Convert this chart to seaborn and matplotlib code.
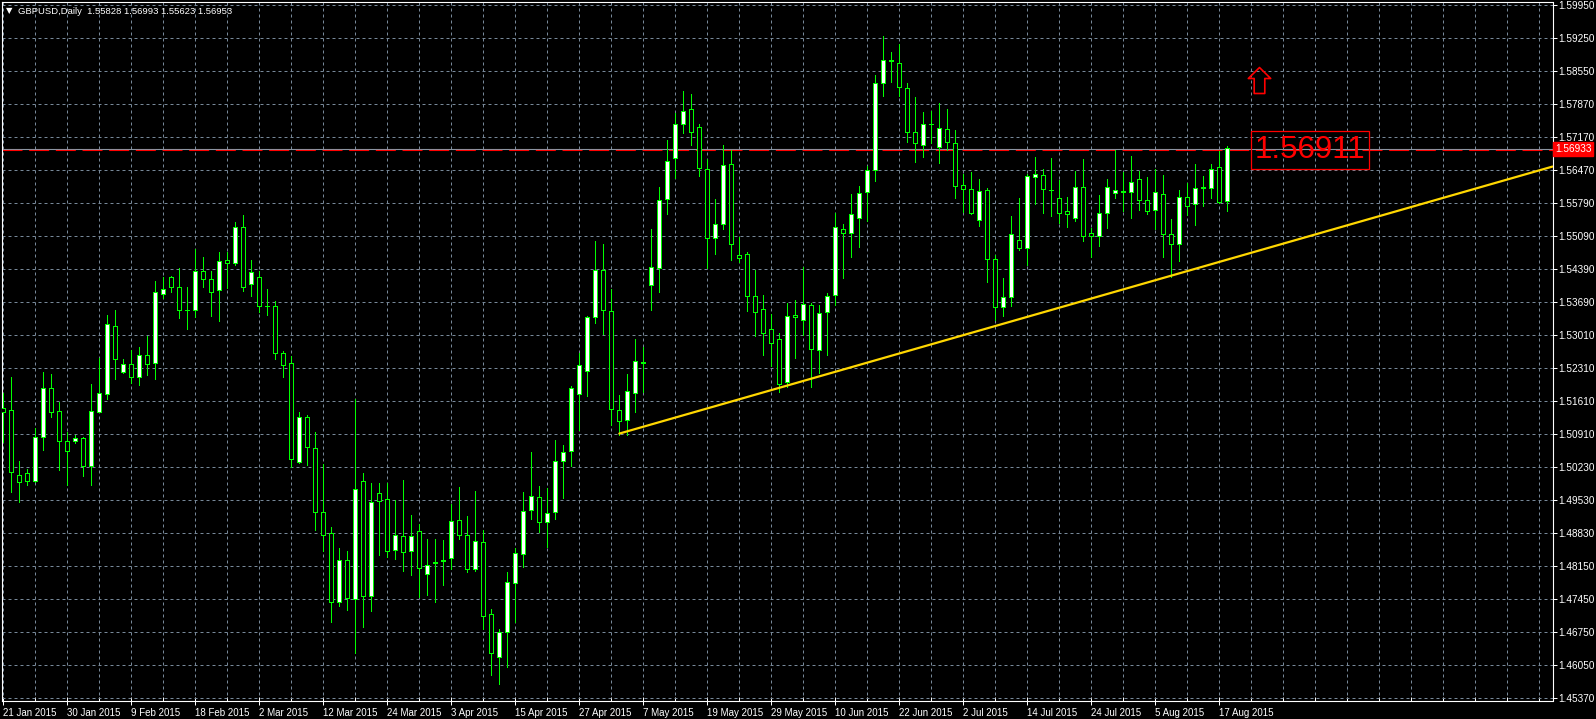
import numpy as np
import matplotlib
matplotlib.use("Agg")
import matplotlib.pyplot as plt
import matplotlib.transforms as mtransforms
from matplotlib.path import Path
import seaborn as sns

# daily GBPUSD candles, 21 Jan 2015 .. 18 Aug 2015 (broker has Sunday bars)
opens = [1.51478, 1.51436, 1.50062, 1.50104, 1.49936, 1.50862, 1.51893, 1.51409, 1.50778, 1.50778,
         1.50841, 1.50264, 1.51400, 1.51779, 1.53197, 1.52242, 1.52398, 1.52137, 1.52587, 1.52431,
         1.53883, 1.54228, 1.54018, 1.53540, 1.53534, 1.54354, 1.54186, 1.53954, 1.54586, 1.54522,
         1.55280, 1.54093, 1.54228, 1.53630, 1.53618, 1.52629, 1.52419, 1.50348, 1.51282, 1.50630,
         1.49284, 1.48842, 1.47390, 1.48274, 1.47453, 1.49936, 1.47529, 1.49684, 1.49557, 1.48497,
         1.48779, 1.48476, 1.48884, 1.47992, 1.48230, 1.48260, 1.48316, 1.49115, 1.48800, 1.48085,
         1.48653, 1.47138, 1.46233, 1.46772, 1.47790, 1.48400, 1.49326, 1.49599, 1.49073, 1.49284,
         1.50357, 1.50567, 1.51766, 1.52250, 1.53399, 1.54375, 1.53513, 1.51430, 1.51219, 1.51787,
         1.52445, 1.54072, 1.54430, 1.55882, 1.56731, 1.57447, 1.57762, 1.57384, 1.56500, 1.55061,
         1.55343, 1.56605, 1.54691, 1.54712, 1.53828, 1.53555, 1.53134, 1.52924, 1.52019, 1.53428,
         1.53330, 1.53639, 1.52698, 1.53492, 1.53849, 1.55238, 1.55154, 1.55469, 1.56016, 1.56479,
         1.58310, 1.58790, 1.58730, 1.58204, 1.57279, 1.57005, 1.57458, 1.56976, 1.57342, 1.57047,
         1.56164, 1.56079, 1.55427, 1.56065, 1.54607, 1.53597, 1.53807, 1.55013, 1.54838, 1.56344,
         1.56374, 1.56070, 1.55890, 1.55617, 1.55469, 1.56121, 1.55154, 1.55103, 1.55574, 1.55995,
         1.56034, 1.56016, 1.56290, 1.55848, 1.55638, 1.55974, 1.55133, 1.54922, 1.55911, 1.55764,
         1.56108, 1.56100, 1.56542, 1.55828]
highs = [1.51794, 1.52137, 1.50363, 1.50188, 1.51051, 1.52236, 1.52193, 1.51611, 1.50973, 1.50904,
         1.50874, 1.51983, 1.52524, 1.53435, 1.53540, 1.52509, 1.52698, 1.52762, 1.52999, 1.54150,
         1.54228, 1.54255, 1.54417, 1.54018, 1.54823, 1.54649, 1.54354, 1.54754, 1.54754, 1.55385,
         1.55539, 1.54586, 1.54360, 1.53982, 1.53729, 1.52684, 1.52572, 1.51394, 1.51331, 1.50967,
         1.50294, 1.48974, 1.48526, 1.48470, 1.51667, 1.50104, 1.49900, 1.49900, 1.49894, 1.49536,
         1.49963, 1.49227, 1.49031, 1.48722, 1.48722, 1.48701, 1.49458, 1.49816, 1.49206, 1.49732,
         1.48905, 1.47249, 1.46822, 1.48028, 1.48526, 1.49711, 1.50552, 1.49837, 1.49789, 1.50805,
         1.50700, 1.51941, 1.52642, 1.53420, 1.54992, 1.54929, 1.53975, 1.51745, 1.52193, 1.52930,
         1.52768, 1.55244, 1.56121, 1.57116, 1.57685, 1.58154, 1.58084, 1.57453, 1.56717, 1.55875,
         1.57011, 1.56906, 1.55082, 1.54754, 1.54382, 1.53856, 1.53449, 1.53050, 1.53681, 1.53750,
         1.54438, 1.53694, 1.53645, 1.53891, 1.55574, 1.55343, 1.55980, 1.56149, 1.56570, 1.58484,
         1.59305, 1.58968, 1.59136, 1.58310, 1.58015, 1.57699, 1.57727, 1.57895, 1.57769, 1.57327,
         1.56401, 1.56443, 1.56296, 1.56100, 1.54697, 1.54207, 1.55518, 1.55903, 1.56401, 1.56759,
         1.56506, 1.56731, 1.56275, 1.55917, 1.56458, 1.56717, 1.55265, 1.55959, 1.56290, 1.56906,
         1.56450, 1.56780, 1.56464, 1.56332, 1.56506, 1.56380, 1.55455, 1.56065, 1.56206, 1.56612,
         1.56365, 1.56612, 1.56885, 1.56993]
lows = [1.50763, 1.49717, 1.49507, 1.49858, 1.49928, 1.50594, 1.51295, 1.50174, 1.49858, 1.50748,
        1.50047, 1.49858, 1.51388, 1.51667, 1.52095, 1.52221, 1.52010, 1.51962, 1.52179, 1.52095,
        1.53792, 1.53925, 1.53378, 1.53147, 1.53399, 1.54030, 1.53420, 1.53315, 1.54009, 1.54487,
        1.53946, 1.53841, 1.53504, 1.53441, 1.52509, 1.52137, 1.50243, 1.50315, 1.50279, 1.48911,
        1.48476, 1.46982, 1.47319, 1.47228, 1.46330, 1.46877, 1.47207, 1.48392, 1.48350, 1.48308,
        1.48049, 1.47965, 1.47508, 1.47544, 1.47403, 1.47754, 1.48091, 1.48716, 1.48034, 1.48055,
        1.46835, 1.45867, 1.45671, 1.46035, 1.46969, 1.48127, 1.49149, 1.48869, 1.48560, 1.49136,
        1.49591, 1.50264, 1.51015, 1.51737, 1.53273, 1.53041, 1.51127, 1.50910, 1.50910, 1.51394,
        1.51815, 1.53540, 1.53925, 1.55566, 1.56311, 1.57270, 1.57011, 1.56365, 1.54417, 1.54724,
        1.55244, 1.54592, 1.54544, 1.53519, 1.52999, 1.52593, 1.52362, 1.51815, 1.51920, 1.52524,
        1.53014, 1.51926, 1.52208, 1.52593, 1.53645, 1.54207, 1.54661, 1.54872, 1.55419, 1.56260,
        1.58049, 1.58343, 1.58049, 1.57081, 1.56660, 1.56765, 1.57047, 1.56626, 1.56906, 1.55890,
        1.55608, 1.55560, 1.55314, 1.54135, 1.53330, 1.53414, 1.53630, 1.54802, 1.54487, 1.55770,
        1.55587, 1.55524, 1.55377, 1.55293, 1.55412, 1.54998, 1.54661, 1.54893, 1.55271, 1.55890,
        1.55629, 1.55482, 1.55644, 1.55560, 1.55244, 1.54661, 1.54241, 1.54577, 1.55539, 1.55328,
        1.55734, 1.55890, 1.55785, 1.55623]
closes = [1.51394, 1.50138, 1.49915, 1.49936, 1.50862, 1.51893, 1.51400, 1.50790, 1.50580, 1.50841,
          1.50264, 1.51409, 1.51787, 1.53239, 1.52503, 1.52398, 1.52137, 1.52587, 1.52410, 1.53912,
          1.53975, 1.54018, 1.53534, 1.53530, 1.54354, 1.54186, 1.53925, 1.54565, 1.54522, 1.55280,
          1.54030, 1.54333, 1.53630, 1.53618, 1.52642, 1.52389, 1.50399, 1.51282, 1.50664, 1.49296,
          1.48812, 1.47403, 1.48274, 1.47487, 1.49768, 1.47529, 1.49500, 1.49528, 1.48476, 1.48800,
          1.48455, 1.48779, 1.48118, 1.48169, 1.48220, 1.48270, 1.49094, 1.48800, 1.48085, 1.48674,
          1.47096, 1.46317, 1.46759, 1.47811, 1.48421, 1.49305, 1.49620, 1.49073, 1.49263, 1.50357,
          1.50546, 1.51893, 1.52377, 1.53386, 1.54375, 1.53534, 1.51463, 1.51198, 1.51829, 1.52461,
          1.52435, 1.54438, 1.55848, 1.56668, 1.57447, 1.57720, 1.57279, 1.56521, 1.55061, 1.55343,
          1.56584, 1.54935, 1.54640, 1.53828, 1.53504, 1.53062, 1.52852, 1.51989, 1.53424, 1.53386,
          1.53660, 1.52713, 1.53483, 1.53841, 1.55293, 1.55166, 1.55553, 1.55995, 1.56479, 1.58310,
          1.58793, 1.58780, 1.58225, 1.57279, 1.57060, 1.57447, 1.57448, 1.57363, 1.57081, 1.56155,
          1.56079, 1.55587, 1.56037, 1.54619, 1.53597, 1.53807, 1.55133, 1.54851, 1.56359, 1.56395,
          1.56092, 1.56060, 1.55574, 1.55553, 1.56121, 1.55103, 1.55103, 1.55574, 1.56121, 1.56058,
          1.56024, 1.56227, 1.55861, 1.55623, 1.56016, 1.55133, 1.54922, 1.55911, 1.55722, 1.56100,
          1.56118, 1.56500, 1.55818, 1.56953]

date_labels = ["21 Jan 2015", "30 Jan 2015", "9 Feb 2015", "18 Feb 2015", "2 Mar 2015",
               "12 Mar 2015", "24 Mar 2015", "3 Apr 2015", "15 Apr 2015", "27 Apr 2015",
               "7 May 2015", "19 May 2015", "29 May 2015", "10 Jun 2015", "22 Jun 2015",
               "2 Jul 2015", "14 Jul 2015", "24 Jul 2015", "5 Aug 2015", "17 Aug 2015"]
price_labels = ["1.59950", "1.59250", "1.58550", "1.57870", "1.57170", "1.56470", "1.55790",
                "1.55090", "1.54390", "1.53690", "1.53010", "1.52310", "1.51610", "1.50910",
                "1.50230", "1.49530", "1.48830", "1.48150", "1.47450", "1.46750", "1.46050",
                "1.45370"]

header = "GBPUSD,Daily  1.55828 1.56993 1.55623 1.56953"
bid_price = 1.56933
hline_price = 1.56911
trend_idx = [77, 153]
trend_price = [1.5094, 1.5460]
arrow_idx = 157
arrow_price = 1.58385

GREEN = "#00ff00"
GRID = "#778899"

sns.set_theme(style="dark", rc={"axes.facecolor": "black", "figure.facecolor": "black"})
plt.rcParams["font.family"] = ["Liberation Sans", "DejaVu Sans"]

fig = plt.figure(figsize=(15.96, 7.19), dpi=100)
ax = fig.add_axes([2 / 1596, 18 / 719, 1550.5 / 1596, 699 / 719])
ax.set_facecolor("black")

o = np.array(opens)
c = np.array(closes)
x = np.arange(len(o))
up = c >= o

# wicks, then bodies on top
ax.vlines(x, lows, highs, color=GREEN, lw=0.72, antialiased=False, zorder=3)
ax.bar(x, np.abs(c - o), bottom=np.minimum(o, c), width=0.48,
       color=np.where(up, "white", "black"), edgecolor=GREEN, linewidth=0.72,
       antialiased=False, zorder=4)

xmin, xmax = -0.1625, 193.65
ax.set_xlim(xmin, xmax)
ax.set_ylim(1.45314, 1.60020)

# trend line (ray to the right edge)
slope = (trend_price[1] - trend_price[0]) / (trend_idx[1] - trend_idx[0])
tx = [trend_idx[0], xmax]
ty = [trend_price[0], trend_price[0] + slope * (xmax - trend_idx[0])]
sns.lineplot(x=tx, y=ty, ax=ax, color="#ffd700", lw=1.6, zorder=5)

# bid line + horizontal line object
ax.axhline(bid_price, color="#8a96a3", lw=0.8, zorder=2)
ax.axhline(hline_price, color="red", lw=0.8, ls=(0, (18, 6)), zorder=2)
ax.text(156.45, hline_price, "1.56911", color="red", fontsize=22.5,
        ha="left", va="center",
        bbox=dict(boxstyle="square,pad=0.12", fc="none", ec="red", lw=0.9), zorder=6)

# up arrow object
arrow = Path([(0, 13), (11.2, 2), (5.3, 2), (5.3, -13), (-5.3, -13), (-5.3, 2), (-11.2, 2), (0, 13)],
             closed=True)
ax.plot([arrow_idx], [arrow_price], marker=arrow, ms=18.7, mfc="none", mec="red", mew=1.2,
        ls="none", zorder=6)

# axes / ticks
ax.set_xticks(np.arange(0, len(o), 8))
ax.set_xticklabels(date_labels, ha="left")
ax.set_xticks(np.arange(0, 194, 4), minor=True)
ax.tick_params(axis="x", which="major", direction="inout", length=6, width=0.72, color="white",
               labelcolor="white", labelsize=7, pad=2, bottom=True)
ax.tick_params(axis="x", which="minor", direction="in", length=3, width=0.72, color="white", bottom=True)

yticks = np.linspace(1.5995, 1.4537, len(price_labels))
ax.yaxis.tick_right()
ax.set_yticks(yticks)
ax.set_yticklabels(price_labels)
ax.tick_params(axis="y", direction="out", length=3, width=0.72, color="white",
               labelcolor="white", labelsize=7.2, pad=1.5, right=True, left=False)

ax.grid(True, which="both", axis="x", color=GRID, linestyle=(0, (3, 3)), linewidth=0.72)
ax.grid(True, which="major", axis="y", color=GRID, linestyle=(0, (3, 3)), linewidth=0.72)
ax.set_axisbelow(True)
for s in ax.spines.values():
    s.set_color("white")
    s.set_linewidth(0.8)
    s.set_visible(True)

# price tag on the right scale
trans = mtransforms.blended_transform_factory(ax.transAxes, ax.transData)
ax.text(1.0015, bid_price, "1.56933", transform=trans, ha="left", va="center", fontsize=7.2,
        color="white", bbox=dict(boxstyle="square,pad=0.2", fc="red", ec="red"), zorder=7, clip_on=False)

# header
fig.text(6 / 1596, 1 - 11 / 719, "\u25bc", fontsize=6, color="white", va="center",
         family=["DejaVu Sans"])
fig.text(18 / 1596, 1 - 11 / 719, header, fontsize=6.8, color="white", va="center")

fig.savefig("out.png", dpi=100, facecolor="black")
